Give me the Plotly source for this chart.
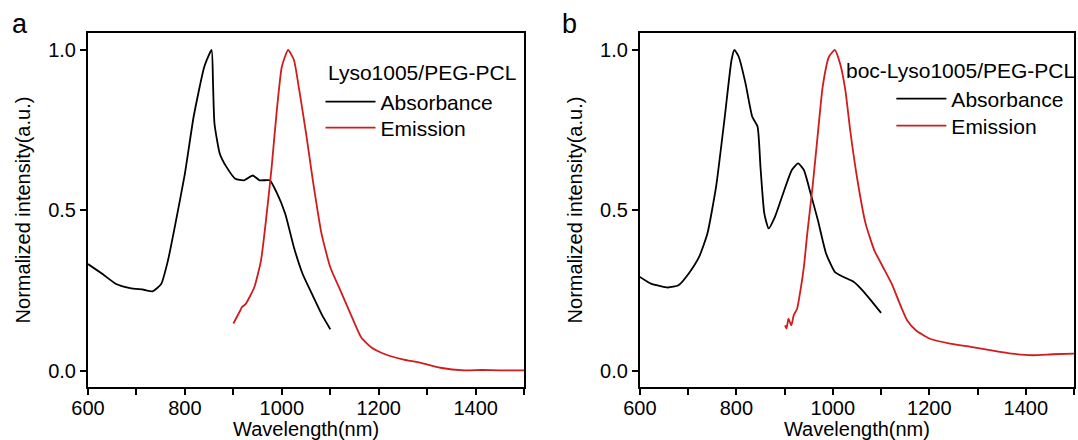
import plotly.graph_objects as go

# ---------------- data ----------------
abs_a_x = [600, 630, 658, 687, 715, 733, 751, 765, 779, 800, 818, 840, 855, 858, 861,
           872, 886, 904, 922, 940, 954, 975, 989, 1007, 1025, 1043, 1064, 1082, 1100]
abs_a_y = [0.333, 0.302, 0.271, 0.258, 0.253, 0.248, 0.271, 0.344, 0.448, 0.615, 0.792,
           0.948, 1.0, 0.896, 0.771, 0.677, 0.635, 0.599, 0.594, 0.609, 0.594, 0.594,
           0.557, 0.49, 0.385, 0.302, 0.234, 0.177, 0.130]

em_a_x = [900, 914, 918, 925, 943, 957, 968, 979, 989, 1000, 1013, 1025, 1036, 1050,
          1064, 1082, 1100, 1121, 1142, 1164, 1185, 1213, 1249, 1285, 1327, 1377, 1413,
          1450, 1500]
em_a_y = [0.148, 0.1875, 0.200, 0.208, 0.26, 0.344, 0.479, 0.635, 0.802, 0.948, 1.0,
          0.969, 0.875, 0.74, 0.594, 0.427, 0.323, 0.25, 0.177, 0.104, 0.073, 0.052,
          0.036, 0.026, 0.010, 0.002, 0.003, 0.002, 0.002]

abs_b_x = [600, 623, 658, 680, 701, 723, 740, 758, 776, 790, 796, 805, 819, 833, 844,
           850, 858, 867, 880, 897, 915, 928, 940, 954, 969, 986, 1004, 1022, 1043,
           1061, 1079, 1100]
abs_b_y = [0.293, 0.272, 0.26, 0.267, 0.303, 0.356, 0.428, 0.574, 0.792, 0.969, 1.0,
           0.979, 0.896, 0.792, 0.761, 0.636, 0.49, 0.444, 0.48, 0.553, 0.626, 0.647,
           0.626, 0.553, 0.47, 0.366, 0.309, 0.293, 0.278, 0.252, 0.22, 0.181]

em_b_x = [901, 904, 908, 914, 919, 926, 933, 940, 947, 958, 969, 979, 992, 1004, 1015,
          1026, 1036, 1051, 1068, 1086, 1104, 1122, 1136, 1154, 1172, 1200, 1243, 1286,
          1329, 1371, 1414, 1457, 1500]
em_b_y = [0.142, 0.132, 0.163, 0.142, 0.174, 0.194, 0.252, 0.324, 0.428, 0.574, 0.74,
          0.886, 0.979, 1.0, 0.958, 0.875, 0.75, 0.595, 0.459, 0.376, 0.324, 0.272,
          0.22, 0.158, 0.127, 0.101, 0.085, 0.075, 0.064, 0.054, 0.049, 0.052, 0.054]

x_tickvals = [600, 700, 800, 900, 1000, 1100, 1200, 1300, 1400, 1500]
x_ticktext = ["600", "", "800", "", "1000", "", "1200", "", "1400", ""]
x_minor_ticks = [650, 750, 850, 950, 1050, 1150, 1250, 1350, 1450]
y_tickvals = [0.0, 0.5, 1.0]
y_ticktext = ["0.0", "0.5", "1.0"]
y_minor_ticks = [0.25, 0.75]

panel_titles = ["Lyso1005/PEG-PCL", "boc-Lyso1005/PEG-PCL"]
panel_letters = ["a", "b"]
series_names = ["Absorbance", "Emission"]

# ---------------- figure ----------------
W, H = 1078, 440
FONT = "Liberation Sans, Arial, Helvetica, sans-serif"
BLACK = "#000000"
RED = "#d01c1c"

# plot-area geometry (pixels)
L, R, T, B = 88, 1076, 33, 387
A_RIGHT, B_LEFT = 525, 641
PW, PH = R - L, B - T

XR = [600, 1500]
YR = [-0.05, 1.053]


def dx(v):
    return (v - L) / PW


def dy(v):
    return (B - v) / PH


fig = go.Figure()
traces = [
    (abs_a_x, abs_a_y, series_names[0], BLACK, "x", "y", "legend"),
    (em_a_x, em_a_y, series_names[1], RED, "x", "y", "legend2"),
    (abs_b_x, abs_b_y, series_names[0], BLACK, "x2", "y2", "legend3"),
    (em_b_x, em_b_y, series_names[1], RED, "x2", "y2", "legend4"),
]
for xs, ys, nm, col, xa, ya, lg in traces:
    fig.add_trace(go.Scatter(x=xs, y=ys, mode="lines", name=nm,
                             line=dict(color=col, width=1.8, shape="spline", smoothing=0.5),
                             xaxis=xa, yaxis=ya, legend=lg))

main_x = dict(
    range=XR, tickmode="array", tickvals=x_tickvals, ticktext=x_ticktext,
    ticks="outside", ticklen=6, tickwidth=2, tickcolor=BLACK, ticklabelstandoff=-4,
    showline=True, linecolor=BLACK, linewidth=2, mirror=True, showgrid=False, zeroline=False,
    automargin=True, layer="above traces",
    tickfont=dict(family=FONT, size=20, color=BLACK),
    title=dict(text="Wavelength(nm)", font=dict(family=FONT, size=20, color=BLACK), standoff=1),
)
main_y = dict(
    range=YR, tickmode="array", tickvals=y_tickvals, ticktext=y_ticktext,
    ticks="outside", ticklen=6, tickwidth=2, tickcolor=BLACK,
    showline=True, linecolor=BLACK, linewidth=2, mirror=True, showgrid=False, zeroline=False,
    automargin=True, layer="above traces",
    tickfont=dict(family=FONT, size=20, color=BLACK),
    title=dict(text="Normalized intensity(a.u.)", font=dict(family=FONT, size=20, color=BLACK),
               standoff=12),
)
minor_x = dict(range=XR, tickmode="array", tickvals=x_minor_ticks, ticks="outside", ticklen=3,
               tickwidth=2, tickcolor=BLACK, showticklabels=False, showline=False,
               showgrid=False, zeroline=False, automargin=False)
minor_y = dict(range=YR, tickmode="array", tickvals=y_minor_ticks, ticks="outside", ticklen=3,
               tickwidth=2, tickcolor=BLACK, showticklabels=False, showline=False,
               showgrid=False, zeroline=False, automargin=False)

legend_common = dict(xanchor="left", yanchor="middle", bgcolor="rgba(0,0,0,0)", borderwidth=0,
                     font=dict(family=FONT, size=21, color=BLACK), itemwidth=50)

fig.update_layout(
    template="none",
    width=W, height=H, margin=dict(l=L, r=W - R, t=T, b=H - B, pad=0),
    paper_bgcolor="white", plot_bgcolor="white",
    font=dict(family=FONT, size=20, color=BLACK),
    xaxis=dict(domain=[0, dx(A_RIGHT)], anchor="y", **main_x),
    yaxis=dict(domain=[0, 1], anchor="x", **main_y),
    xaxis2=dict(domain=[dx(B_LEFT), 1], anchor="y2", **main_x),
    yaxis2=dict(domain=[0, 1], anchor="x2", **main_y),
    xaxis3=dict(overlaying="x", anchor="y", side="bottom", **minor_x),
    yaxis3=dict(overlaying="y", anchor="x", side="left", **minor_y),
    xaxis4=dict(overlaying="x2", anchor="y2", side="bottom", **minor_x),
    yaxis4=dict(overlaying="y2", anchor="x2", side="left", **minor_y),
    legend=dict(x=dx(321), y=dy(102), **legend_common),
    legend2=dict(x=dx(321), y=dy(128), **legend_common),
    legend3=dict(x=dx(893), y=dy(99), **legend_common),
    legend4=dict(x=dx(893), y=dy(126), **legend_common),
    showlegend=True,
)

annotations = [
    dict(text=panel_titles[0], x=dx(326), y=dy(73), xanchor="left", yanchor="middle",
         font=dict(family=FONT, size=21, color=BLACK)),
    dict(text=panel_titles[1], x=dx(846), y=dy(70), xanchor="left", yanchor="middle",
         font=dict(family=FONT, size=21, color=BLACK)),
    dict(text=panel_letters[0], x=dx(10), y=dy(24), xanchor="left", yanchor="middle",
         font=dict(family=FONT, size=27, color=BLACK)),
    dict(text=panel_letters[1], x=dx(561), y=dy(24), xanchor="left", yanchor="middle",
         font=dict(family=FONT, size=27, color=BLACK)),
]
for a in annotations:
    a.update(xref="paper", yref="paper", showarrow=False)
fig.update_layout(annotations=annotations)

fig.write_html("out.html")
